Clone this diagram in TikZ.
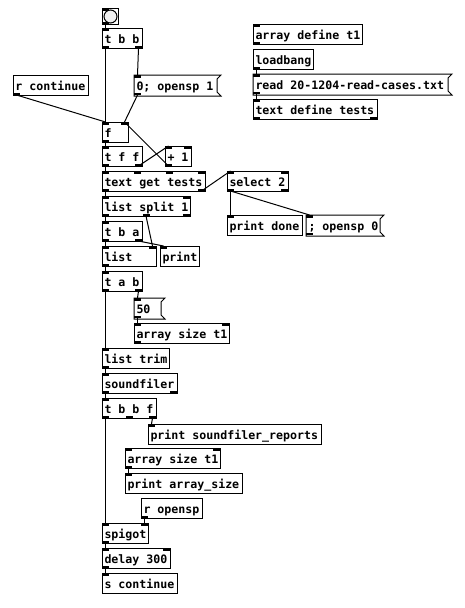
\documentclass[tikz,border=0pt]{standalone}
\usepackage{fontspec}
\newfontfamily\pdfont{DejaVu Sans Mono}[BoldFont={DejaVu Sans Mono Bold}]
% ports: #1 name #2 x1 #3 x2 #4 y #5 n #6 tag #7 marker height (signed)
\newcommand\pdports[7]{%
  \ifnum#5>0
  \foreach \k in {1,...,#5}{%
    \ifnum#5=1 \pgfmathsetmacro\px{#2}\else\pgfmathsetmacro\px{#2+(#3-#2-7)*(\k-1)/(#5-1)}\fi
    \fill[black] (\px,#4) rectangle ({\px+7},{#4+(#7)});
    \coordinate (#1-#6\k) at ({\px+3.5},#4);
  }%
  \fi}
% object: [opts] name x1 y1 x2 nin nout text
\newcommand\pdobj[8][]{%
  \pgfmathsetmacro\pdw{#5-#3}%
  \pgfmathsetmacro\pdtw{#5-#3-4}%
  \node[pdbox,#1,minimum width=\pdw pt] (#2) at (#3,#4) {\makebox[\pdtw pt][l]{#8}};
  \pdports{#2}{#3}{#5}{#4}{#6}{i}{2.5}%
  \pgfmathsetmacro\pdyb{#4+20}%
  \pdports{#2}{#3}{#5}{\pdyb}{#7}{o}{-2.5}%
}
\newcommand\pdflag[1]{%
  \draw[flag] (#1.north west) -- ([xshift=4pt]#1.north east) -- ([yshift=-4pt]#1.north east)
    -- ([yshift=4pt]#1.south east) -- ([xshift=4pt]#1.south east) -- (#1.south west) -- cycle;}
\begin{document}
\begin{tikzpicture}[x=1pt,y=-1pt,
  pdbox/.style={draw=black,line width=1pt,anchor=north west,minimum height=20pt,
    inner xsep=2pt,inner ysep=0pt,text height=10pt,text depth=1pt,
    font=\pdfont\bfseries\fontsize{11.6pt}{12pt}\selectfont},
  pdmsg/.style={draw=none},
  wire/.style={line width=1pt,draw=black},
  flag/.style={line width=1pt,draw=black}]
\useasboundingbox[fill=white] (0,0) rectangle (464,608);

% bang
\node[draw=black,line width=1pt,anchor=north west,minimum size=16pt,inner sep=0pt] (bng) at (102,8) {};
\draw[line width=1pt,fill=black!6] (bng.center) circle (6.5pt);
\pdports{bng}{102}{118}{8}{1}{i}{2.5}
\pdports{bng}{102}{118}{24}{1}{o}{-2.5}

\pdobj{tbb}{102}{28}{142}{1}{2}{t b b}
\pdobj{rcont}{13}{75}{88}{0}{1}{r continue}
\pdobj[pdmsg]{msg0}{134}{75}{216}{1}{1}{0; opensp 1}\pdflag{msg0}
\pdobj{f}{102}{122}{128}{2}{1}{f}
\pdobj{tff}{102}{146}{142}{1}{2}{t f f}
\pdobj{plus}{165}{146}{191}{2}{1}{+ 1}
\pdobj{tgt}{102}{171}{205}{4}{2}{text get tests}
\pdobj{sel}{227}{171}{288}{2}{2}{select 2}
\pdobj{splt}{102}{196}{190}{2}{3}{list split 1}
\pdobj{tba}{102}{221}{142}{1}{2}{t b a}
\pdobj{list}{102}{246}{156}{2}{1}{list}
\pdobj{print}{160}{246}{199}{1}{0}{print}
\pdobj{tab}{102}{271}{142}{1}{2}{t a b}
\pdobj[pdmsg]{msg50}{134}{298}{160}{1}{1}{50}\pdflag{msg50}
\pdobj{asz1}{134}{323}{229}{2}{1}{array size t1}
\pdobj{ltrim}{102}{348}{169}{1}{1}{list trim}
\pdobj{sfiler}{102}{373}{177}{1}{2}{soundfiler}
\pdobj{tbbf}{102}{398}{156}{1}{3}{t b b f}
\pdobj{psr}{148}{424}{321}{1}{0}{print soundfiler\_reports}
\pdobj{asz2}{125}{448}{220}{2}{1}{array size t1}
\pdobj{pas}{125}{473}{242}{1}{0}{print array\_size}
\pdobj{ropen}{141}{498}{202}{0}{1}{r opensp}
\pdobj{spig}{102}{523}{148}{2}{1}{spigot}
\pdobj{del}{102}{548}{170}{2}{1}{delay 300}
\pdobj{scont}{102}{573}{177}{1}{0}{s continue}
\pdobj{pdone}{227}{215}{302}{1}{0}{print done}
\pdobj[pdmsg]{op0}{306}{215}{379}{1}{1}{; opensp 0}\pdflag{op0}
\pdobj{adef}{253}{24}{362}{1}{1}{array define t1}
\pdobj{lb}{253}{49}{313}{0}{1}{loadbang}
\pdobj[pdmsg]{read}{253}{74}{447}{1}{1}{read 20-1204-read-cases.txt}\pdflag{read}
\pdobj{tdef}{253}{99}{377}{1}{2}{text define tests}

% connections
\draw[wire] (bng-o1) -- (tbb-i1);
\draw[wire] (tbb-o1) -- (f-i1);
\draw[wire] (tbb-o2) -- (msg0-i1);
\draw[wire] (rcont-o1) -- (f-i1);
\draw[wire] (msg0-o1) -- (f-i2);
\draw[wire] (f-o1) -- (tff-i1);
\draw[wire] (tff-o2) -- (plus-i1);
\draw[wire] (plus-o1) -- (f-i2);
\draw[wire] (tff-o1) -- (tgt-i1);
\draw[wire] (tgt-o2) -- (sel-i1);
\draw[wire] (tgt-o1) -- (splt-i1);
\draw[wire] (sel-o1) -- (pdone-i1);
\draw[wire] (sel-o1) -- (op0-i1);
\draw[wire] (splt-o1) -- (tba-i1);
\draw[wire] (splt-o2) -- (list-i2);
\draw[wire] (tba-o1) -- (list-i1);
\draw[wire] (tba-o2) -- (print-i1);
\draw[wire] (list-o1) -- (tab-i1);
\draw[wire] (tab-o1) -- (ltrim-i1);
\draw[wire] (tab-o2) -- (msg50-i1);
\draw[wire] (msg50-o1) -- (asz1-i1);
\draw[wire] (ltrim-o1) -- (sfiler-i1);
\draw[wire] (sfiler-o1) -- (tbbf-i1);
\draw[wire] (tbbf-o3) -- (psr-i1);
\draw[wire] (tbbf-o1) -- (spig-i1);
\draw[wire] (asz2-o1) -- (pas-i1);
\draw[wire] (ropen-o1) -- (spig-i2);
\draw[wire] (spig-o1) -- (del-i1);
\draw[wire] (del-o1) -- (scont-i1);
\draw[wire] (lb-o1) -- (read-i1);
\draw[wire] (read-o1) -- (tdef-i1);
\end{tikzpicture}
\end{document}
